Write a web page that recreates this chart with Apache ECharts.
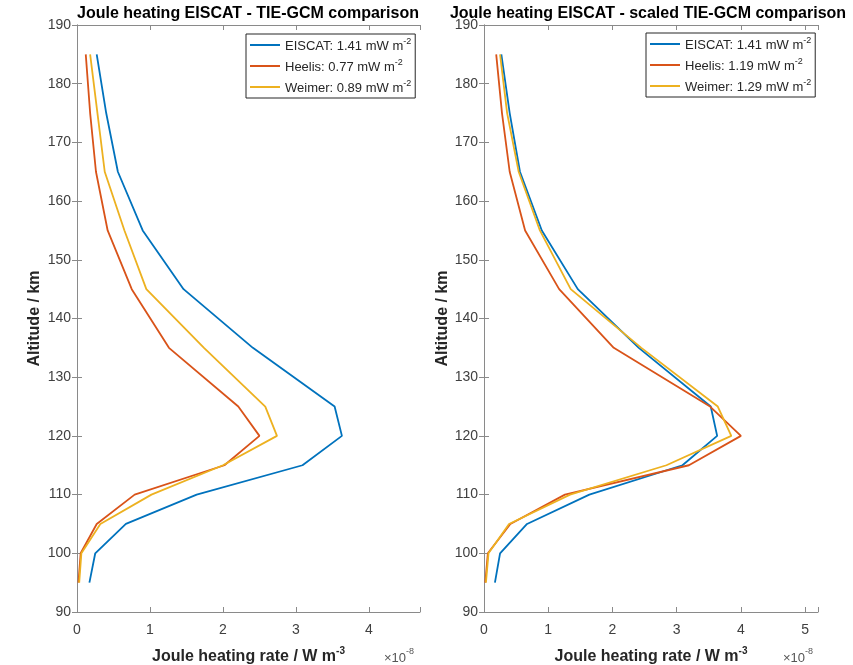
<!DOCTYPE html>
<html><head><meta charset="utf-8">
<script src="https://cdn.jsdelivr.net/npm/echarts@6/dist/echarts.min.js"></script>
<style>html,body{margin:0;padding:0;background:#fff}#c{width:853px;height:665px}</style>
</head><body><div id="c"></div>
<script>
const altitudes = [95,100,105,110,115,120,125,135,145,155,165,175,185];
const eiscat = [0.17,0.25,0.67,1.64,3.09,3.63,3.53,2.41,1.46,0.90,0.56,0.40,0.27];
const heelis = [0.02,0.05,0.27,0.79,2.02,2.50,2.21,1.26,0.75,0.42,0.26,0.18,0.12];
const weimer = [0.03,0.06,0.32,1.02,2.00,2.74,2.58,1.74,0.95,0.65,0.38,0.28,0.18];
const heelisScaled = [0.02,0.06,0.41,1.26,3.19,4.00,3.52,2.02,1.17,0.64,0.40,0.28,0.19];
const weimerScaled = [0.03,0.07,0.39,1.34,2.84,3.85,3.64,2.45,1.35,0.87,0.54,0.36,0.25];
const leftLegend = ['EISCAT: 1.41 mW m', 'Heelis: 0.77 mW m', 'Weimer: 0.89 mW m'];
const rightLegend = ['EISCAT: 1.41 mW m', 'Heelis: 1.19 mW m', 'Weimer: 1.29 mW m'];
const titles = ['Joule heating EISCAT - TIE-GCM comparison', 'Joule heating EISCAT - scaled TIE-GCM comparison'];
const yTitle = 'Altitude / km';
const xTitle = 'Joule heating rate / W m';
const xMax = [4.7, 5.2];

const colors = ['#0072BD', '#D95319', '#EDB120'];
const FONT = '"Liberation Sans", Arial, sans-serif';
const axisGray = '#8a8a8a';
const labelGray = '#404040';

function pairs(xs){ return xs.map((v,i)=>[v, altitudes[i]]); }

const grids = [
  {left: 77, top: 25, width: 343, bottom: 53, outerBoundsMode: 'none', containLabel: false},
  {left: 484, top: 25, width: 334, bottom: 53, outerBoundsMode: 'none', containLabel: false}
];

const xAxes = [], yAxes = [];
[0,1].forEach(g => {
  xAxes.push({
    type: 'value', gridIndex: g, position: 'bottom', min: 0, max: xMax[g], interval: 1,
    axisLine: {lineStyle: {color: axisGray, width: 1}},
    axisTick: {inside: true, length: 5, lineStyle: {color: axisGray}},
    axisLabel: {color: labelGray, fontFamily: FONT, fontSize: 14, margin: 11,
      formatter: v => Number.isInteger(v) ? String(v) : ''},
    splitLine: {show: false},
    name: '{b|' + xTitle + '}{s|-3}', nameLocation: 'middle', nameGap: 34,
    nameTextStyle: {rich: {
      b: {fontFamily: FONT, fontSize: 16, fontWeight: 'bold', color: '#262626', lineHeight: 19, verticalAlign: 'bottom'},
      s: {fontFamily: FONT, fontSize: 10, fontWeight: 'bold', color: '#262626', lineHeight: 12, verticalAlign: 'top'}
    }}
  });
  xAxes.push({
    type: 'value', gridIndex: g, position: 'top', min: 0, max: xMax[g], interval: 1,
    axisLine: {lineStyle: {color: axisGray, width: 1}},
    axisTick: {inside: true, length: 5, lineStyle: {color: axisGray}},
    axisLabel: {show: false}, splitLine: {show: false}
  });
  yAxes.push({
    type: 'value', gridIndex: g, position: 'left', min: 90, max: 190, interval: 10,
    axisLine: {lineStyle: {color: axisGray, width: 1}},
    axisTick: {inside: true, length: 5, lineStyle: {color: axisGray}},
    axisLabel: {color: labelGray, fontFamily: FONT, fontSize: 14, margin: 6},
    splitLine: {show: false},
    name: yTitle, nameLocation: 'middle', nameGap: g === 0 ? 34 : 31, nameRotate: 90,
    nameTextStyle: {fontFamily: FONT, fontSize: 16, fontWeight: 'bold', color: '#262626'}
  });
  yAxes.push({
    type: 'value', gridIndex: g, position: 'right', min: 90, max: 190, interval: 10,
    axisLine: {lineStyle: {color: axisGray, width: 1}},
    axisTick: {inside: true, length: 5, lineStyle: {color: axisGray}},
    axisLabel: {show: false}, splitLine: {show: false}
  });
});

const seriesDefs = [
  {name: 'L0', data: eiscat, c: 0, g: 0},
  {name: 'L1', data: heelis, c: 1, g: 0},
  {name: 'L2', data: weimer, c: 2, g: 0},
  {name: 'R0', data: eiscat, c: 0, g: 1},
  {name: 'R1', data: heelisScaled, c: 1, g: 1},
  {name: 'R2', data: weimerScaled, c: 2, g: 1}
];
const legendText = {L0: leftLegend[0], L1: leftLegend[1], L2: leftLegend[2], R0: rightLegend[0], R1: rightLegend[1], R2: rightLegend[2]};

const series = seriesDefs.map(s => ({
  name: s.name, type: 'line', xAxisIndex: s.g*2, yAxisIndex: s.g*2,
  data: pairs(s.data), symbol: 'none', showSymbol: false, silent: true,
  color: colors[s.c],
  lineStyle: {color: colors[s.c], width: 1.8}
}));

function legendCfg(names, left, top) {
  return {
    data: names.map(n => ({name: n, icon: 'rect'})), orient: 'vertical', left: left, top: top,
    itemWidth: 30, itemHeight: 2, itemGap: 5,
    borderColor: '#262626', borderWidth: 1, padding: [3, 4, 3, 4],
    backgroundColor: '#fff', selectedMode: false,
    formatter: n => '{a|' + legendText[n] + '}{s|-2}',
    textStyle: {rich: {
      a: {fontFamily: FONT, fontSize: 13, color: '#262626', lineHeight: 16, verticalAlign: 'bottom'},
      s: {fontFamily: FONT, fontSize: 9, color: '#262626', lineHeight: 10, verticalAlign: 'top'}
    }}
  };
}

const graphic = [
  {type: 'text', x: 248, y: 14, style: {text: titles[0], fontFamily: FONT, fontSize: 16, fontWeight: 'bold', fill: '#000', textAlign: 'center', textVerticalAlign: 'middle'}},
  {type: 'text', x: 648, y: 14, style: {text: titles[1], fontFamily: FONT, fontSize: 16, fontWeight: 'bold', fill: '#000', textAlign: 'center', textVerticalAlign: 'middle'}},
  {type: 'text', x: 384, y: 647, style: {text: '{a|×10}{s|-8}', fill: '#555',
    rich: {a: {fontFamily: FONT, fontSize: 13, color: '#555', lineHeight: 18, verticalAlign: 'bottom'},
           s: {fontFamily: FONT, fontSize: 9, color: '#555', lineHeight: 10, verticalAlign: 'top'}}}},
  {type: 'text', x: 783, y: 647, style: {text: '{a|×10}{s|-8}', fill: '#555',
    rich: {a: {fontFamily: FONT, fontSize: 13, color: '#555', lineHeight: 18, verticalAlign: 'bottom'},
           s: {fontFamily: FONT, fontSize: 9, color: '#555', lineHeight: 10, verticalAlign: 'top'}}}}
];

const chart = echarts.init(document.getElementById('c'), null, {renderer: 'canvas'});
chart.setOption({
  animation: false,
  backgroundColor: '#fff',
  grid: grids,
  xAxis: xAxes,
  yAxis: yAxes,
  legend: [legendCfg(['L0','L1','L2'], 246, 34), legendCfg(['R0','R1','R2'], 646, 33)],
  graphic: graphic,
  series: series
});
</script>
</body></html>
